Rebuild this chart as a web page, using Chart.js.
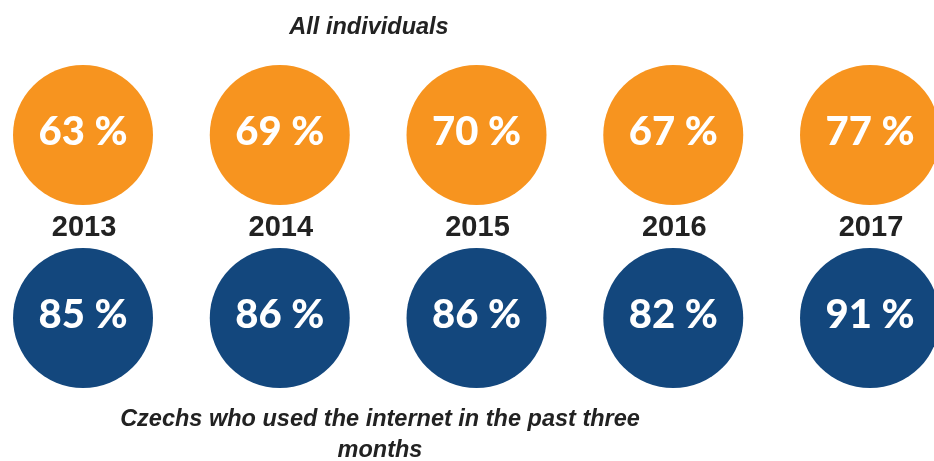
<!DOCTYPE html>
<html>
<head>
<meta charset="utf-8">
<script src="https://cdn.jsdelivr.net/npm/chart.js@4/dist/chart.umd.min.js"></script>
<style>
  html, body { margin: 0; padding: 0; background: #ffffff; }
  #wrap { width: 934px; height: 461px; position: relative; }
</style>
</head>
<body>
<div id="wrap"><canvas id="c" width="934" height="461"></canvas></div>
<script>
const years = ['2013', '2014', '2015', '2016', '2017'];
const allIndividuals = [63, 69, 70, 67, 77];
const internetUsers = [85, 86, 86, 82, 91];
const topTitle = 'All individuals';
const bottomTitle = ['Czechs who used the internet in the past three', 'months'];

const ORANGE = '#F7941F';
const BLUE = '#13477D';
const TEXT = '#222222';
const RADIUS = 70;

function rowData(values, row) {
  return values.map((v, i) => ({ x: i, y: row, r: RADIUS, v: v }));
}

const labelPlugin = {
  id: 'circleLabels',
  afterDatasetsDraw(chart) {
    const ctx = chart.ctx;
    ctx.save();
    ctx.textAlign = 'center';
    ctx.textBaseline = 'middle';
    chart.data.datasets.forEach((ds, di) => {
      const meta = chart.getDatasetMeta(di);
      meta.data.forEach((el, i) => {
        ctx.fillStyle = '#ffffff';
        ctx.font = '900 40px Lato';
        ctx.fillText(ds.data[i].v + ' %', el.x, el.y - 3);
      });
    });
    const m0 = chart.getDatasetMeta(0);
    const m1 = chart.getDatasetMeta(1);
    ctx.fillStyle = TEXT;
    ctx.font = 'bold 29px "Liberation Sans", Arial, sans-serif';
    years.forEach((y, i) => {
      const a = m0.data[i], b = m1.data[i];
      ctx.fillText(y, a.x + 1, (a.y + b.y) / 2 + 1);
    });
    ctx.font = 'italic bold 23.5px "Liberation Sans", Arial, sans-serif';
    ctx.fillText(topTitle, 369, 28);
    ctx.fillText(bottomTitle[0], 380, 420);
    ctx.fillText(bottomTitle[1], 380, 451);
    ctx.restore();
  }
};

new Chart(document.getElementById('c'), {
  type: 'bubble',
  data: {
    datasets: [
      { label: topTitle, data: rowData(allIndividuals, 0), backgroundColor: ORANGE, borderWidth: 0 },
      { label: bottomTitle.join(' '), data: rowData(internetUsers, 1), backgroundColor: BLUE, borderWidth: 0 }
    ]
  },
  options: {
    responsive: false,
    animation: false,
    events: [],
    layout: { padding: 0 },
    clip: false,
    plugins: { legend: { display: false }, tooltip: { enabled: false }, title: { display: false } },
    scales: {
      x: { type: 'linear', display: false, min: -0.0661, max: 3.9695 },
      y: { type: 'linear', display: false, reverse: true, min: -0.3552, max: 1.3989 }
    }
  },
  plugins: [labelPlugin]
});
</script>
</body>
</html>
